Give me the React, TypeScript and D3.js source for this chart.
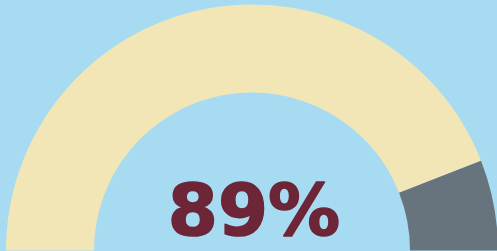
import { useEffect, useRef } from "react";
import * as d3 from "d3";

// gauge parts (filled, remainder) and the label shown in the middle
const parts = ["done", "rest"];
const partValues = [88.1, 11.9];
const partColors = ["#F2E6B7", "#67747E"];
const label = "89%";

const W = 497;
const H = 251;

const App = () => {
  const ref = useRef<SVGSVGElement>(null);

  useEffect(() => {
    const svg = d3.select(ref.current);
    svg.selectAll("*").remove();

    svg.append("rect").attr("width", W).attr("height", H).attr("fill", "#A6DBF2");

    const cx = 252, cy = 250.5;
    const outerR = 246, innerR = 158;

    const pie = d3.pie<number>()
      .sort(null)
      .startAngle(-Math.PI / 2)
      .endAngle(Math.PI / 2);

    const arc = d3.arc<d3.PieArcDatum<number>>()
      .innerRadius(innerR)
      .outerRadius(outerR);

    const g = svg.append("g").attr("transform", `translate(${cx},${cy})`);

    g.selectAll("path")
      .data(pie(partValues))
      .enter()
      .append("path")
      .attr("class", (d, i) => parts[i])
      .attr("d", arc)
      .attr("fill", (d, i) => partColors[i]);

    // heavier look via a thin stroke in the same colour
    svg.append("text")
      .attr("x", 254)
      .attr("y", 235)
      .attr("text-anchor", "middle")
      .style("font-family", "DejaVu Sans")
      .style("font-weight", "bold")
      .style("font-size", "72px")
      .attr("fill", "#6D2538")
      .attr("stroke", "#6D2538")
      .attr("stroke-width", 1.6)
      .attr("stroke-linejoin", "round")
      .text(label);
  }, []);

  return (
    <div style={{ position: "fixed", left: 0, top: 0 }}>
      <svg ref={ref} width={W} height={H} style={{ display: "block" }} />
    </div>
  );
};

export default App;
